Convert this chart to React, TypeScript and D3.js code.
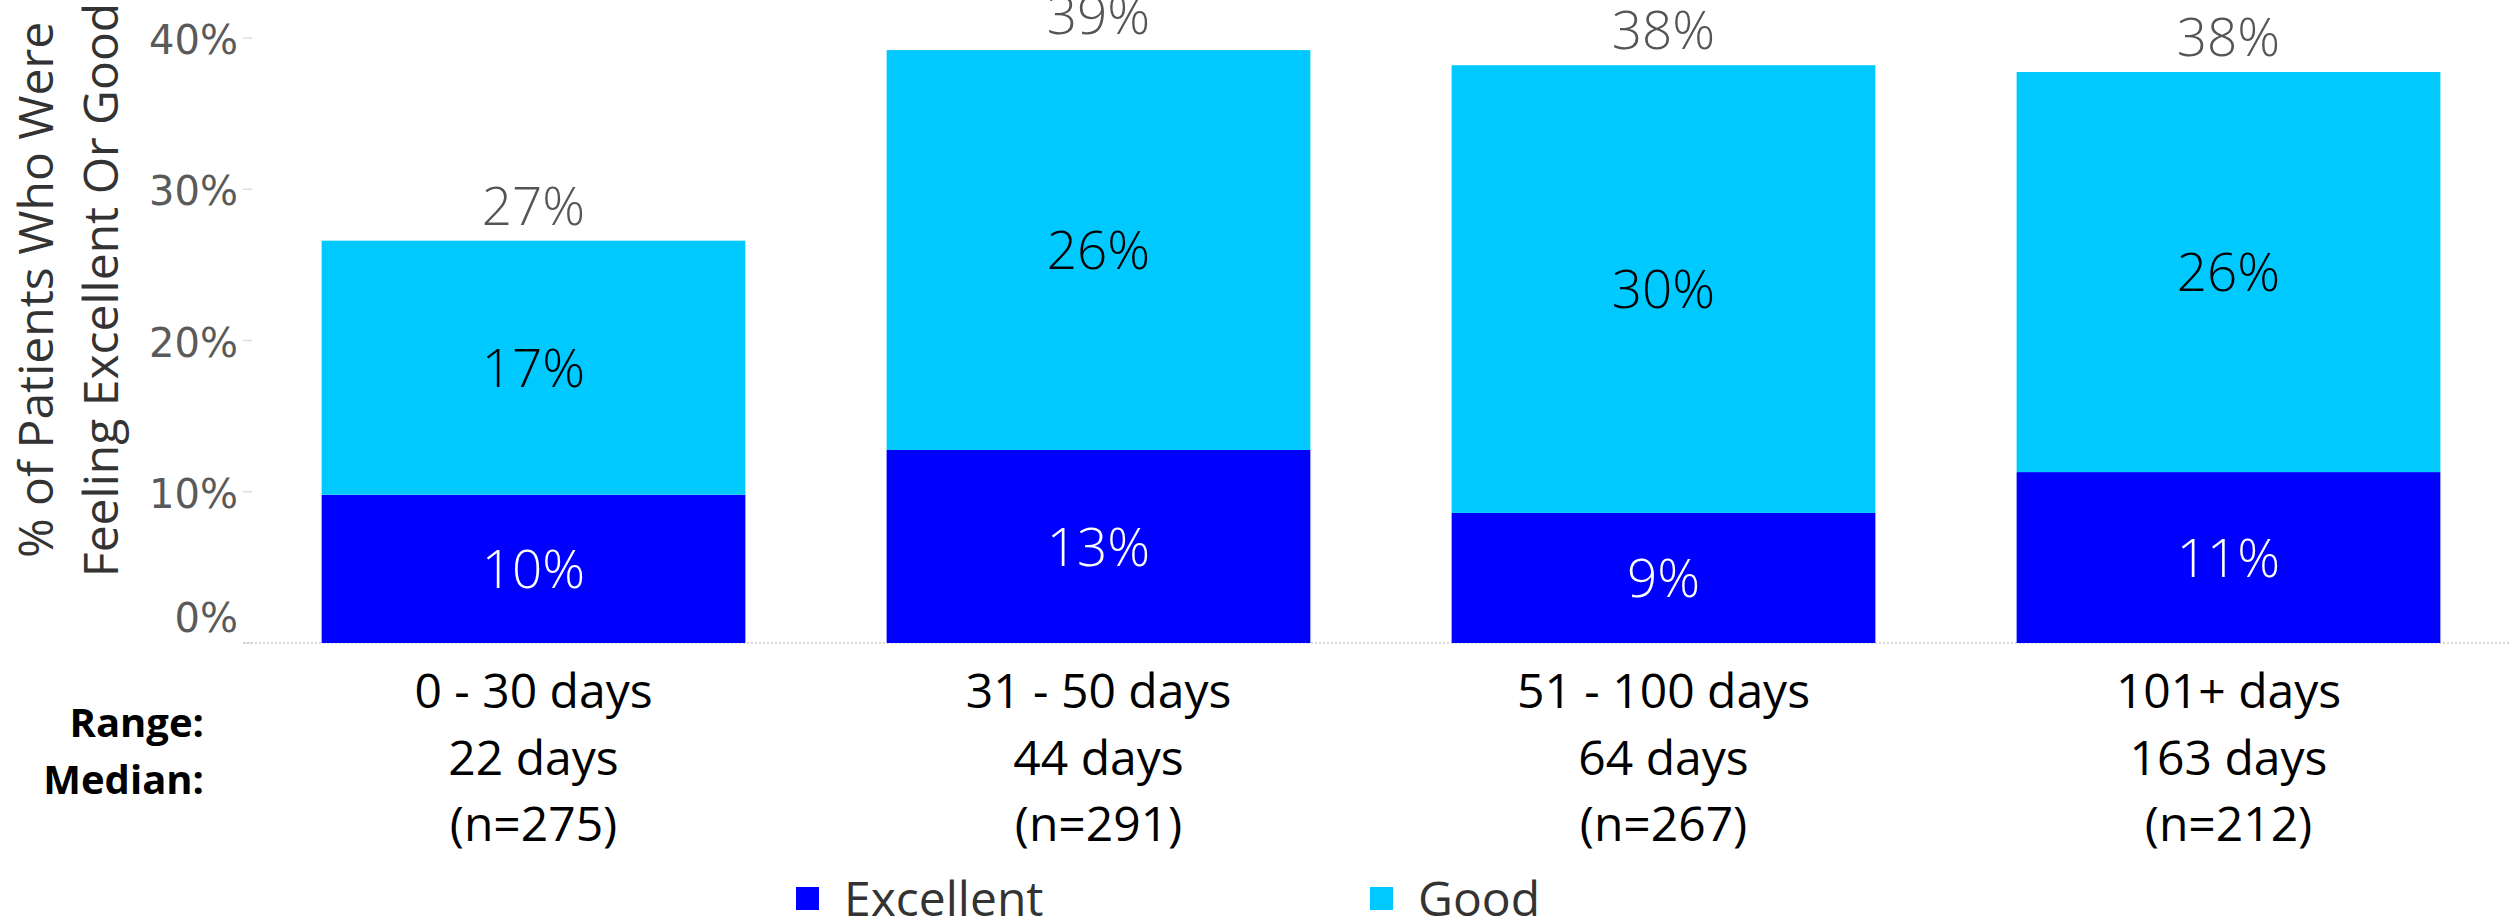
import React from "react";
import * as d3 from "d3";

const categories = ["0 - 30 days", "31 - 50 days", "51 - 100 days", "101+ days"];
const medians = ["22 days", "44 days", "64 days", "163 days"];
const counts = [275, 291, 267, 212];
const excellent = [0.098, 0.1276, 0.086, 0.113];
const good = [0.168, 0.2644, 0.296, 0.2645];
const yTicks = [0, 0.1, 0.2, 0.3, 0.4];
const seriesNames = ["Excellent", "Good"];
const seriesColors = ["#0000FF", "#00C9FF"];
const labelColors = ["#FFFFFF", "#000000"];

const W = 2509;
const H = 922;
const FONT = "'Open Sans', 'DejaVu Sans', sans-serif";

export default function App() {
  const x = d3.scaleBand<string>().domain(categories).range([251, 2511]).paddingInner(0.25).paddingOuter(0.125);
  const y = d3.scaleLinear().domain([0, 0.4]).range([643, 38]);
  const rows = categories.map((c, i) => ({ cat: c, Excellent: excellent[i], Good: good[i] }));
  const stack = d3.stack<any>().keys(seriesNames)(rows);
  const pct = d3.format(".0%");
  const totals = categories.map((_, i) => excellent[i] + good[i]);

  return (
    <svg width={W} height={H} style={{ position: "absolute", left: 0, top: 0, background: "#fff" }} fontFamily={FONT}>
      {/* axis title */}
      <g fill="#333" fontSize={48} textAnchor="middle">
        <text transform={`translate(53,290) rotate(-90)`}>% of Patients Who Were</text>
        <text transform={`translate(118,290) rotate(-90)`}>Feeling Excellent Or Good</text>
      </g>
      {/* y ticks */}
      <g>
        {yTicks.map((t) => (
          <g key={t}>
            <line x1={243} x2={252} y1={y(t)} y2={y(t)} stroke="#ddd" strokeWidth={1.5} />
            <text x={238} y={t === 0 ? y(t) - 11 : y(t) + 16} textAnchor="end" fontSize={40}
              fontFamily="'DejaVu Sans', sans-serif" fill="#5a5a5a">
              {pct(t)}
            </text>
          </g>
        ))}
      </g>
      {/* baseline */}
      <line x1={243} x2={W} y1={y(0)} y2={y(0)} stroke="#ccc" strokeWidth={1.5} strokeDasharray="2,2" />
      {/* bars */}
      {stack.map((s, si) => (
        <g key={s.key} fill={seriesColors[si]}>
          {s.map((d, i) => (
            <rect key={i} x={x(categories[i])} width={x.bandwidth()} y={y(d[1])} height={y(d[0]) - y(d[1])} />
          ))}
        </g>
      ))}
      {/* segment labels */}
      {stack.map((s, si) => (
        <g key={s.key + "l"} fill={labelColors[si]} fontSize={53} fontWeight={300} textAnchor="middle">
          {s.map((d, i) => (
            <text key={i} x={x(categories[i])! + x.bandwidth() / 2} y={(y(d[0]) + y(d[1])) / 2 + 19}>
              {pct(d[1] - d[0])}
            </text>
          ))}
        </g>
      ))}
      {/* totals */}
      <g fill="#555" fontSize={53} fontWeight={300} textAnchor="middle">
        {totals.map((t, i) => (
          <text key={i} x={x(categories[i])! + x.bandwidth() / 2} y={y(t) - 16}>
            {pct(t)}
          </text>
        ))}
      </g>
      {/* category labels */}
      <g fill="#000" fontSize={48} textAnchor="middle">
        {categories.map((c, i) => {
          const cx = x(c)! + x.bandwidth() / 2;
          return (
            <g key={c}>
              <text x={cx} y={708}>{c}</text>
              <text x={cx} y={775}>{medians[i]}</text>
              <text x={cx} y={841}>{`(n=${counts[i]})`}</text>
            </g>
          );
        })}
      </g>
      <g fill="#000" fontSize={40} fontWeight={700} textAnchor="end">
        <text x={204} y={737}>Range:</text>
        <text x={204} y={794}>Median:</text>
      </g>
      {/* legend */}
      <g>
        {seriesNames.map((n, i) => {
          const lx = i === 0 ? 796 : 1370;
          return (
            <g key={n}>
              <rect x={lx} y={887} width={23} height={23} fill={seriesColors[i]} />
              <text x={lx + 48} y={916} fontSize={48} fill="#333">{n}</text>
            </g>
          );
        })}
      </g>
    </svg>
  );
}
